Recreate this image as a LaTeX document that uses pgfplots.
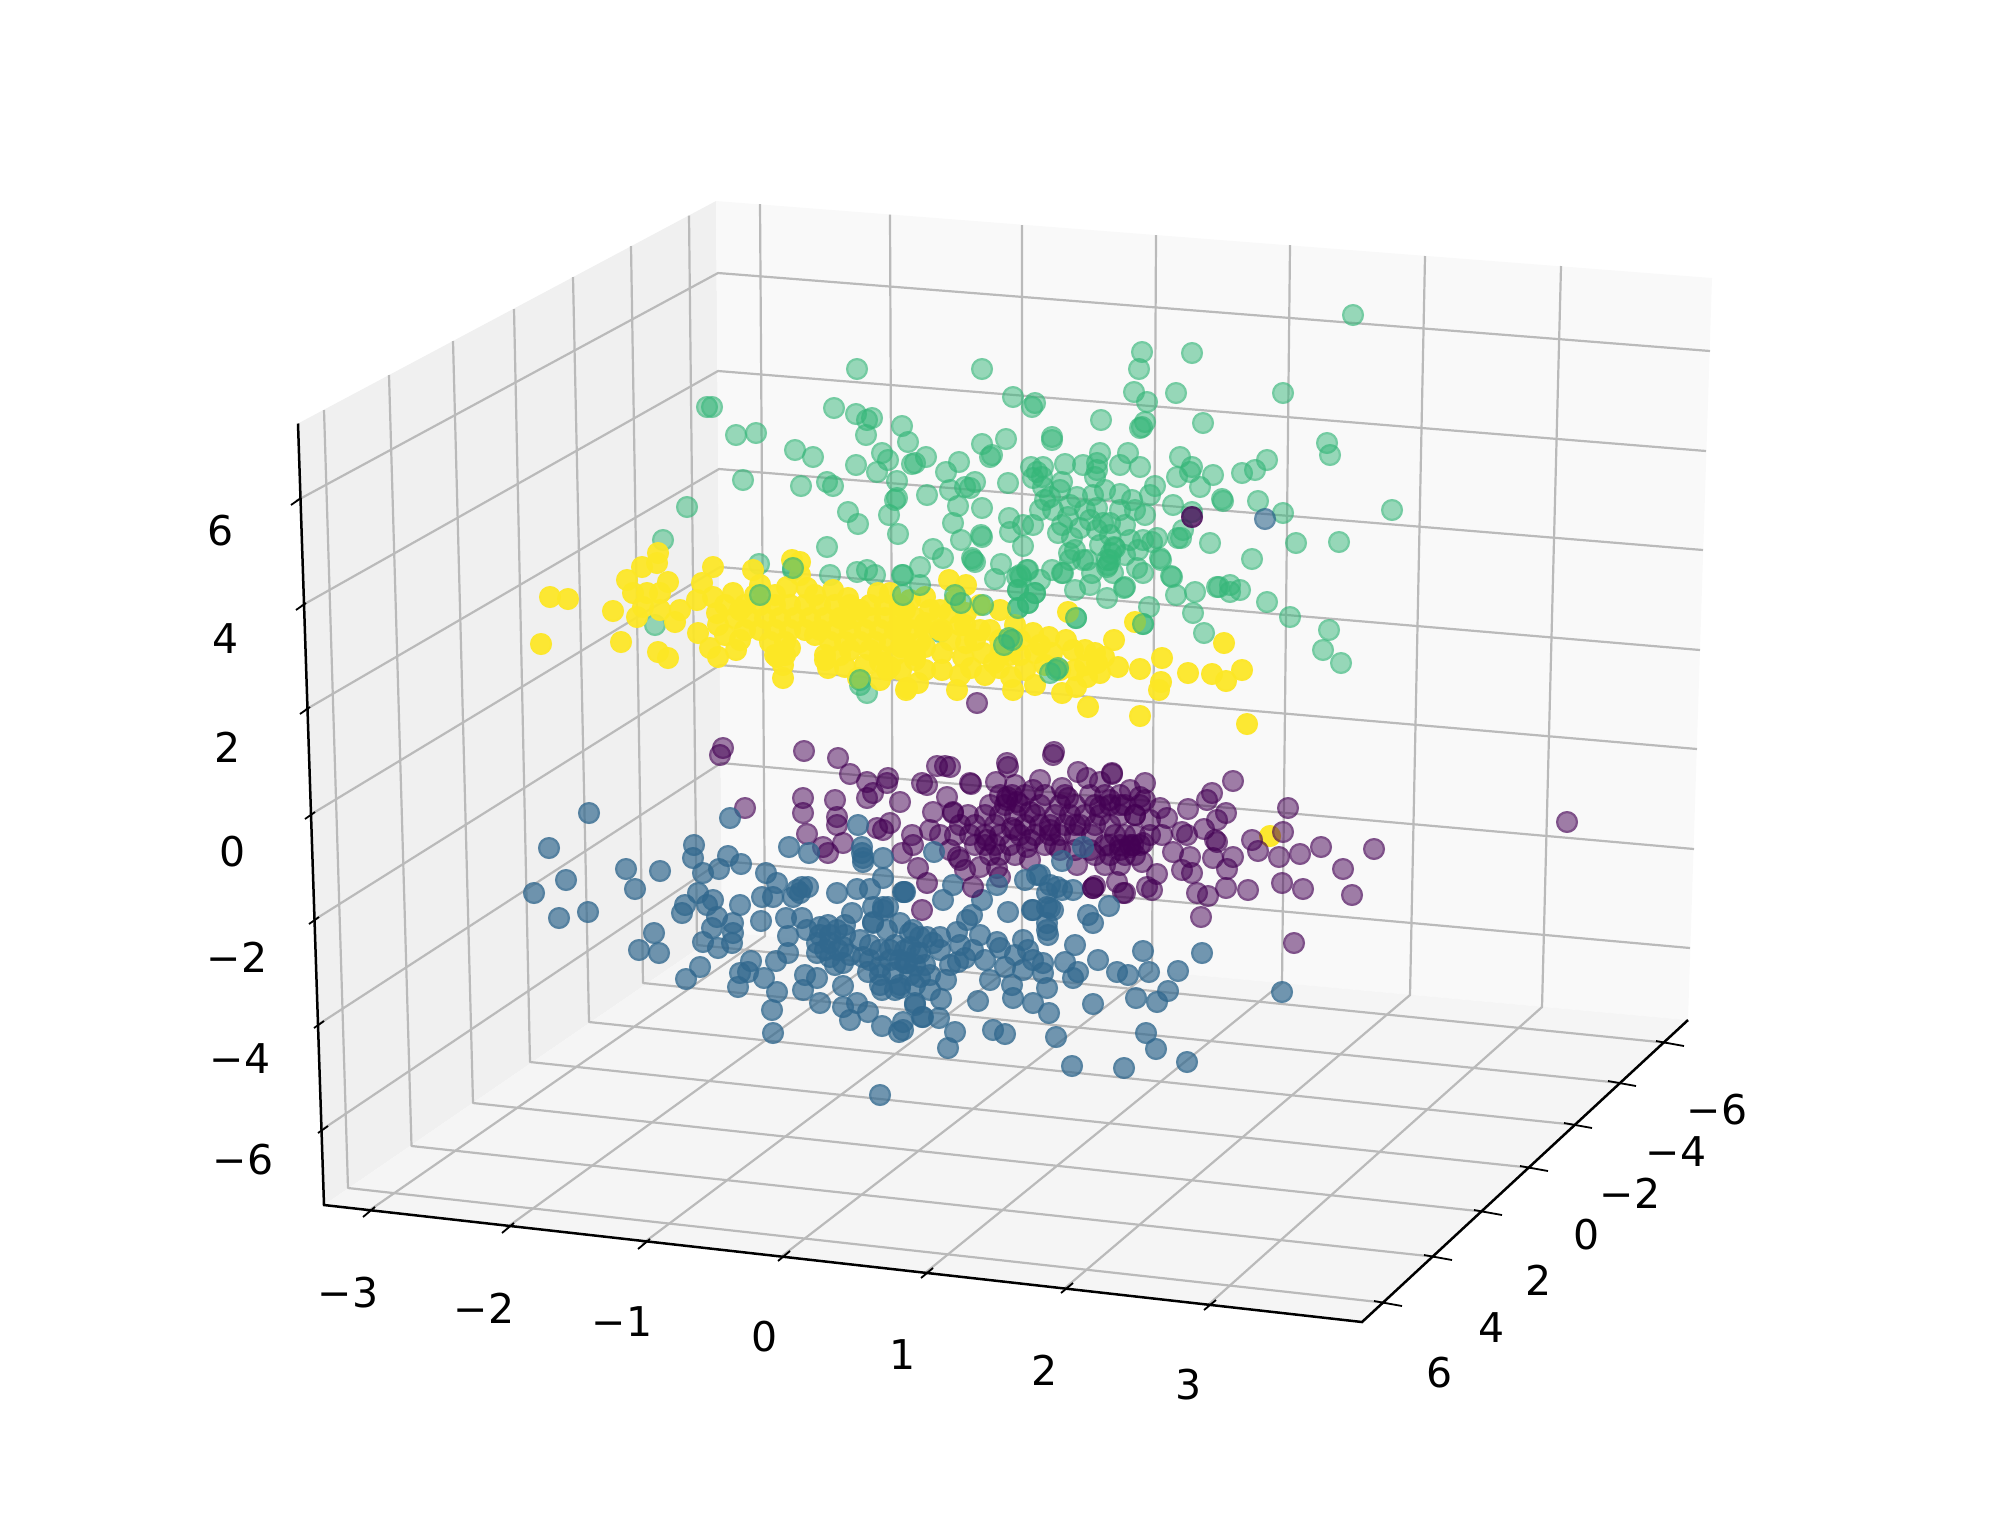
\documentclass[border=0pt]{standalone}
\usepackage{pgfplots}
\usepackage{fontspec}
\setmainfont{DejaVu Sans}
\pgfplotsset{compat=1.18}
\definecolor{vpurple}{HTML}{440154}
\definecolor{vblue}{HTML}{31688E}
\definecolor{vgreen}{HTML}{35B779}
\definecolor{vyellow}{HTML}{FDE725}
\definecolor{gridc}{HTML}{BABABA}
\pgfdeclareplotmark{ringdot}{%
  \pgfpathcircle{\pgfpointorigin}{\pgfplotmarksize}\pgfusepathqfill
  \pgfsetlinewidth{1.1pt}%
  \pgfpathcircle{\pgfpointorigin}{\pgfplotmarksize-0.55pt}\pgfusepathqstroke}
\pgfplotsset{
  pts/.style n args={3}{only marks, mark=ringdot, mark size=5.5pt,
    mark options={draw=#1, fill=#1, draw opacity=#3, fill opacity=#2}},
  gl/.style={no marks, color=gridc, line width=1.1pt, line join=round},
  ax/.style={no marks, color=black, line width=1.25pt},
  tk/.style={no marks, color=black, line width=0.9pt},
}
\begin{document}
\begin{tikzpicture}
\path[use as bounding box] (0,0) rectangle (1000pt,758.5pt);
\begin{axis}[
  at={(0,0)}, anchor=south west,
  width=1000pt, height=758.5pt, scale only axis,
  xmin=0, xmax=2000, ymin=0, ymax=1517, y dir=reverse,
  hide axis, clip=true]
% panes
\addplot[no marks, fill=black!6, draw=none] coordinates {(324,1205)(298,423.5)(716,201)(722,932)(324,1205)};
\addplot[no marks, fill=black!2.5, draw=none] coordinates {(716,201)(1712,278)(1688,1020)(722,932)(716,201)};
\addplot[no marks, fill=black!4, draw=none] coordinates {(324,1205)(1362,1322)(1688,1020)(722,932)(324,1205)};
% grid: x
\addplot[gl] coordinates {(367,1212)(765,936)(760,204)};
\addplot[gl] coordinates {(506,1228)(893,948)(890,214.5)};
\addplot[gl] coordinates {(642,1244)(1022,959)(1022,225)};
\addplot[gl] coordinates {(782,1256)(1152,971)(1156,235)};
\addplot[gl] coordinates {(925,1273)(1282,983)(1290,245)};
\addplot[gl] coordinates {(1065,1288)(1410,995)(1425,256)};
\addplot[gl] coordinates {(1208,1305)(1542,1007)(1561,266)};
% grid: y
\addplot[gl] coordinates {(1387.5,1303)(348,1188)(324,410)};
\addplot[gl] coordinates {(1437,1257)(411.5,1146)(389,375)};
\addplot[gl] coordinates {(1487,1212)(473,1103)(453,341)};
\addplot[gl] coordinates {(1533,1168)(530,1062)(514,309)};
\addplot[gl] coordinates {(1577,1125)(589,1022)(573,277)};
\addplot[gl] coordinates {(1621,1083)(643,983)(631,246)};
\addplot[gl] coordinates {(1669,1043)(697,945)(689,215.5)};
% grid: z
\addplot[gl] coordinates {(296,501)(718,273)(1710,351)};
\addplot[gl] coordinates {(301,606)(718,371)(1706,451)};
\addplot[gl] coordinates {(305,710)(719,469)(1703,550)};
\addplot[gl] coordinates {(310,815)(720,567)(1700,650)};
\addplot[gl] coordinates {(314,920)(720,665)(1697,749)};
\addplot[gl] coordinates {(319,1024)(721,763)(1694,849)};
\addplot[gl] coordinates {(323,1129)(721.5,861)(1690,948)};
% axis lines
\addplot[ax] coordinates {(298,423.5)(324,1205)(1362,1322)(1688,1020)};
% ticks z
\addplot[tk] coordinates {(291,505)(301,498)};
\addplot[tk] coordinates {(296,610)(306,603)};
\addplot[tk] coordinates {(300,714)(310,707)};
\addplot[tk] coordinates {(305,819)(315,812)};
\addplot[tk] coordinates {(309,924)(319,917)};
\addplot[tk] coordinates {(314,1028)(324,1021)};
\addplot[tk] coordinates {(318,1133)(328,1126)};
% ticks x
\addplot[tk] coordinates {(363,1217)(375,1207)};
\addplot[tk] coordinates {(502,1233)(514,1223)};
\addplot[tk] coordinates {(638,1249)(650,1239)};
\addplot[tk] coordinates {(778,1261)(790,1251)};
\addplot[tk] coordinates {(921,1278)(933,1268)};
\addplot[tk] coordinates {(1061,1293)(1073,1283)};
\addplot[tk] coordinates {(1204,1310)(1216,1300)};
% ticks y
\addplot[tk] coordinates {(1374,1301)(1402,1306)};
\addplot[tk] coordinates {(1424,1255)(1452,1260)};
\addplot[tk] coordinates {(1474,1210)(1502,1215)};
\addplot[tk] coordinates {(1520,1166)(1548,1171)};
\addplot[tk] coordinates {(1564,1123)(1592,1128)};
\addplot[tk] coordinates {(1608,1081)(1636,1086)};
\addplot[tk] coordinates {(1656,1041)(1684,1046)};
% tick labels
\newcommand{\tl}[3]{\node[anchor=center, inner sep=0pt, font=\fontsize{20.5}{24}\selectfont] at (axis cs:#1,#2) {#3};}
\tl{221}{531}{6}\tl{226}{639}{4}\tl{228}{747}{2}\tl{233}{852}{0}\tl{237}{957}{−2}\tl{240}{1059}{−4}\tl{243}{1160}{−6}
\tl{348}{1293}{−3}\tl{484}{1308}{−2}\tl{622}{1322}{−1}\tl{765}{1337}{0}\tl{903}{1355}{1}\tl{1045}{1370}{2}\tl{1189}{1385}{3}
\tl{1717}{1110}{−6}\tl{1676}{1152}{−4}\tl{1630}{1193}{−2}\tl{1587}{1235}{0}\tl{1539}{1280}{2}\tl{1492}{1328}{4}\tl{1440}{1373}{6}
% stray yellow under purple
\addplot[pts={vyellow}{0.95}{0.5}] coordinates {(1270,836)};
% purple
\addplot[pts={vpurple}{0.5}{0.35}] coordinates {
(723,748)(720,755)(804,751)(838,758)(1053,755)(1007,763)(1008,767)(937,766)(945,766)(950,767)(850,774)(1078,772)(1087,778)(1112,774)(971,784)(970,783)(867,782)(888,778)(887,783)(922,783)(927,785)(996,782)(745,808)(803,798)(803,813)(835,800)(873,793)(867,798)(900,802)(947,797)(953,813)(1033,790)(1062,788)(1007,797)(1017,802)(837,825)(837,817)(807,834)(843,843)(823,847)(828,853)(883,830)(877,828)(890,823)(912,835)(902,853)(933,812)(930,830)(913,845)(958,857)(980,867)(1027,847)(997,868)(1000,877)(1093,888)(1095,886)(1117,882)(1123,893)(1077,865)(1147,887)(960,860)
(1112,773)(1145,783)(1233,781)(1212,793)(1207,800)(1160,808)(1188,809)(1167,818)(1226,813)(1217,820)(1288,808)(1283,832)(1567,822)(1162,835)(1204,829)(1182,832)(1187,835)(1215,840)(1217,842)(1252,840)(1258,851)(1279,857)(1300,854)(1321,847)(1374,849)(1343,869)(1233,857)(1213,858)(1173,852)(1190,857)(1227,869)(1157,874)(1142,862)(1182,870)(1192,873)(1125,893)(1152,890)(1226,888)(1248,890)(1282,883)(1303,889)(1197,893)(1208,896)(1352,895)(1201,917)(1294,943)(977,703)(1054,752)
(1140,797)(1130,790)(1120,805)(1135,815)(1110,800)(1145,800)(1133,845)(1143,843)(1120,850)(1110,845)
(1000,795)(1012,795)(1025,795)(1045,795)(1065,795)(1090,795)(1105,795)(1120,795)
(990,805)(1005,805)(1020,805)(1040,805)(1060,805)(1075,805)(1095,805)(1110,805)(1125,805)(1140,805)
(985,815)(1000,815)(1015,815)(1035,815)(1055,815)(1070,815)(1085,815)(1100,815)(1120,815)(1135,815)
(960,825)(975,825)(995,825)(1025,825)(1040,825)(1050,825)(1065,825)(1080,825)(1095,825)(1110,825)
(940,835)(955,835)(970,835)(985,835)(1000,835)(1020,835)(1035,835)(1050,835)(1060,835)(1075,835)(1115,835)(1125,835)(1135,835)
(975,845)(985,845)(995,845)(1010,845)(1045,845)(1055,845)(1105,845)(1120,845)(1130,845)(1140,845)
(990,855)(1000,855)(1015,855)(1095,855)(1110,855)(1125,855)(1135,855)(1105,865)(1120,865)(1007,800)(1050,830)(987,840)(1100,807)(1130,847)(953,812)
(968,815)(1012,828)(1030,812)(1075,825)(1092,835)(1150,820)(1150,835)(1090,850)(1075,850)(1060,850)(1030,840)(1015,830)(1068,798)(1015,785)(1040,780)(1100,782)(950,850)(965,870)(1030,860)
};
% blue
\addplot[pts={vblue}{0.68}{0.4}] coordinates {
(589,813)(730,818)(549,848)(566,880)(534,893)(559,918)(588,912)(626,869)(660,871)(635,889)(694,845)(693,858)(703,873)(719,869)(728,856)(741,864)(789,847)(809,853)(858,825)(862,847)(863,858)(883,858)(883,878)(903,892)(766,873)(777,883)(762,897)(773,897)(797,890)(802,887)(808,887)(793,897)(800,893)(837,893)(857,889)(870,889)(852,913)(698,893)(713,900)(707,905)(685,905)(682,913)(740,905)(717,917)(733,923)(733,933)(732,943)(761,921)(712,928)(703,942)(718,948)(786,918)(802,918)(788,936)(807,930)(820,927)(837,930)(845,935)(817,943)(830,943)(843,947)(817,953)(830,957)(843,963)(873,923)(883,910)(873,907)(888,907)(887,930)(900,923)(913,930)(927,937)(654,933)(639,950)(659,953)(700,967)(686,979)(751,961)(740,973)(748,972)(738,987)(776,961)(788,953)(764,978)(777,992)(772,1010)(773,1033)(805,975)(817,978)(803,990)(843,986)(820,1003)(863,957)(868,972)(880,967)(893,973)(905,963)(917,953)(882,990)(900,988)(915,1003)(843,1007)(857,1003)(850,1020)(868,1012)(882,1026)(899,1032)(903,1022)(923,1017)(880,1095)
(862,853)(863,862)(934,852)(1062,861)(1083,847)(904,892)(953,885)(943,900)(982,900)(972,915)(967,920)(997,885)(1025,880)(1037,875)(1050,885)(1062,890)(1073,890)(1047,893)(1008,912)(1033,910)(1047,907)(1053,910)(1047,923)(1109,906)(1088,915)(1093,923)(883,907)(873,922)(905,892)
(1040,875)(1057,887)(1032,910)(1050,908)(1047,930)(1048,935)(1143,951)(1202,953)(1282,992)(1075,945)(1098,960)(1117,972)(1128,975)(1149,972)(1178,971)(1168,991)(1136,998)(1157,1002)(1146,1033)(1156,1049)(1187,1062)(1124,1068)(1072,1066)(1056,1037)(1093,1004)(1049,1013)(1033,1003)(1013,998)(978,1001)(941,999)(946,980)(1065,962)(1078,972)(1073,978)(1047,988)(1043,973)(1043,963)(1033,960)(1028,950)(1023,940)(997,942)(1000,948)(1005,967)(990,980)(1012,985)(1023,970)(973,950)(965,958)(958,962)(920,977)(957,932)(940,937)(933,943)(910,933)(920,937)(910,947)(920,953)(907,963)(939,1018)(955,1032)(948,1048)(915,1005)(922,1017)(903,1030)(993,1030)(1005,1034)
(880,950)(895,945)(900,960)(880,975)(900,985)(870,945)(860,940)(890,960)(870,960)(925,965)(915,985)(930,990)(960,945)(985,960)(1015,955)(980,935)
(820,935)(830,935)(838,950)(825,950)(850,955)(835,965)(828,925)(845,925)(890,950)(905,950)(915,965)(930,975)(895,990)(880,985)(910,975)(940,950)(950,965)
};
% purple over blue
\addplot[pts={vpurple}{0.55}{0.35}] coordinates {(918,868)(927,883)(973,887)(922,910)(1093,888)};
% green under yellow
\addplot[pts={vgreen}{0.5}{0.35}] coordinates {
(857,369)(982,369)(1013,397)(1032,407)(1035,403)(707,407)(712,407)(834,408)(856,414)(867,420)(872,418)(902,426)(866,435)(736,435)(756,433)(908,442)(1006,439)(982,444)(795,450)(813,457)(882,453)(926,457)(888,460)(915,463)(912,464)(959,462)(990,457)(992,455)(1031,467)(856,465)(877,472)(946,472)(1037,472)(1033,478)(743,480)(897,481)(801,486)(827,482)(833,486)(975,482)(965,487)(970,488)(1008,483)(927,495)(950,490)(897,498)(895,500)(958,506)(982,508)(848,512)(889,515)(687,507)(858,524)(953,523)(1009,518)(1010,532)(1023,525)(1033,525)(898,534)(981,535)(961,540)(1023,546)(827,547)(933,549)(943,558)(972,558)(975,562)(1001,564)(920,567)(663,540)(830,575)(857,572)(867,570)(875,575)(759,564)(995,579)(1027,570)(1017,577)(902,575)(793,570)(655,625)(860,685)(867,693)
(1353,315)(1142,352)(1192,353)(1139,369)(1134,392)(1176,393)(1283,393)(1147,402)(1101,420)(1203,423)(1145,422)(1142,427)(1140,428)(1052,437)(1052,440)(1327,443)(1330,455)(1128,453)(1180,457)(1267,460)(1100,453)(1097,463)(1095,477)(1097,470)(1043,467)(1042,477)(1065,464)(1140,467)(1120,465)(1083,465)(1192,467)(1190,472)(1242,473)(1255,470)(1213,475)(1177,477)(1062,482)(1043,487)(1155,486)(1200,487)(1120,494)(1222,499)(1223,501)(1258,501)(1392,510)(1050,497)(1077,497)(1093,495)(1150,495)(1132,500)(1173,505)(1283,513)(1053,510)(1097,508)(1135,510)(1068,517)(1192,512)(1103,523)(1110,523)(1183,530)(1178,538)(1058,533)(1080,528)(1097,530)(1072,538)(1210,543)(1296,543)(1130,540)(1157,538)(1143,540)(1115,548)(1252,559)(1160,558)(1070,560)(1087,560)(1110,560)(1108,565)(1137,568)(1052,570)(1063,573)(1092,573)(1020,575)(1172,577)(1113,573)(1125,587)(1217,587)(1230,585)(1240,590)(1195,592)(1339,542)
(982,537)(973,560)(1028,570)(1021,577)(1018,590)(1035,593)(1062,573)(1083,560)(1069,553)(1107,560)(1111,553)(1114,547)(1107,567)(1143,573)(1161,560)(1138,550)(1152,542)(1181,538)(1171,576)(1124,588)(1107,598)(1176,595)(1219,587)(1230,592)(1267,602)(1149,607)(1193,613)(1290,617)(1076,618)(1143,624)(1204,633)(1329,630)(1323,650)(1341,663)(1018,608)(1028,603)(940,632)
(1045,500)(1060,490)(1070,505)(1085,510)(1040,510)(1062,525)(1090,520)(1105,490)(1120,510)(1110,535)(1125,525)(1145,515)(1075,550)(1100,545)(1125,555)(1090,585)(1040,580)(1075,590)
};
% yellow
\addplot[pts={vyellow}{0.93}{0.3}] coordinates {
(550,597)(568,599)(541,644)(613,611)(621,642)(658,652)(668,658)(637,617)(658,553)(657,563)(642,567)(627,580)(668,582)(633,593)(647,593)(660,593)(643,607)(660,610)(675,622)(680,610)(713,567)(702,583)(697,600)(713,597)(717,613)(718,625)(698,633)(710,648)(718,657)(736,650)(733,593)(740,610)(753,570)(760,585)(792,560)(800,562)(787,587)(807,588)(833,590)(848,598)(878,593)(890,593)(777,657)(783,665)(783,678)(825,660)(828,668)(845,667)(880,662)(890,667)(858,678)(907,688)(915,660)
(949,580)(966,585)(1068,612)(1135,622)(1114,640)(1224,643)(1162,658)(1140,669)(1188,673)(1212,674)(1226,681)(1242,670)(1161,682)(1159,690)(1140,716)(1088,707)(1247,724)(1062,693)(1076,687)(1118,667)(1095,653)(1097,663)(1087,677)(1104,657)(1100,673)(1033,633)(1049,637)(1066,640)(1073,650)(1035,653)(1052,653)(1025,670)(1035,685)(1013,690)(1011,677)(957,690)(906,690)(918,683)(971,668)(963,657)(983,653)(994,663)(999,668)(980,630)(990,630)(966,643)(949,613)(966,613)(1000,610)(925,597)(925,623)(925,647)(925,670)(901,627)(901,647)(901,670)(942,630)(942,653)(942,670)(887,670)
(745,605)(760,605)(775,605)(790,605)(805,605)(820,605)(835,605)(850,605)(870,605)(885,605)(900,605)
(735,618)(750,618)(765,618)(780,618)(795,618)(810,618)(825,618)(840,618)(855,618)(870,618)(885,618)(900,618)(915,618)
(745,630)(760,630)(775,630)(790,630)(805,630)(820,630)(835,630)(850,630)(865,630)(880,630)(895,630)(910,630)(925,630)(940,630)
(740,640)(770,642)(785,642)(830,642)(845,642)(860,642)(875,642)(890,642)(905,642)(920,642)(775,655)(785,655)(825,655)(840,655)(880,655)(895,655)(915,655)(955,600)(980,605)(1010,640)(1020,655)(1085,650)(1075,670)(960,625)
(965,625)(1000,640)(1010,655)(1045,665)(1060,670)(1020,640)(985,675)(960,675)(940,610)(910,600)(880,680)(865,665)(800,575)(845,620)
(725,605)(725,635)(755,595)(775,595)(815,595)(860,610)(790,648)(815,635)(850,650)(870,650)(905,610)(930,610)(950,640)(1040,645)(1085,665)(1000,655)(975,640)(1015,625)
};
% green over yellow
\addplot[pts={vgreen}{0.55}{0.35}] coordinates {(760,595)(903,575)(903,595)(920,585)(1009,638)(1012,640)(1004,645)(1058,668)(1050,673)(1056,670)(983,605)(1028,603)(1018,608)(1035,593)(1018,590)(860,680)(1076,618)(1143,624)(955,595)(961,603)(793,568)};
% outliers within green
\addplot[pts={vpurple}{0.75}{0.4}] coordinates {(1192,517)};
\addplot[pts={vblue}{0.6}{0.4}] coordinates {(1265,519)};
\end{axis}
\end{tikzpicture}
\end{document}
